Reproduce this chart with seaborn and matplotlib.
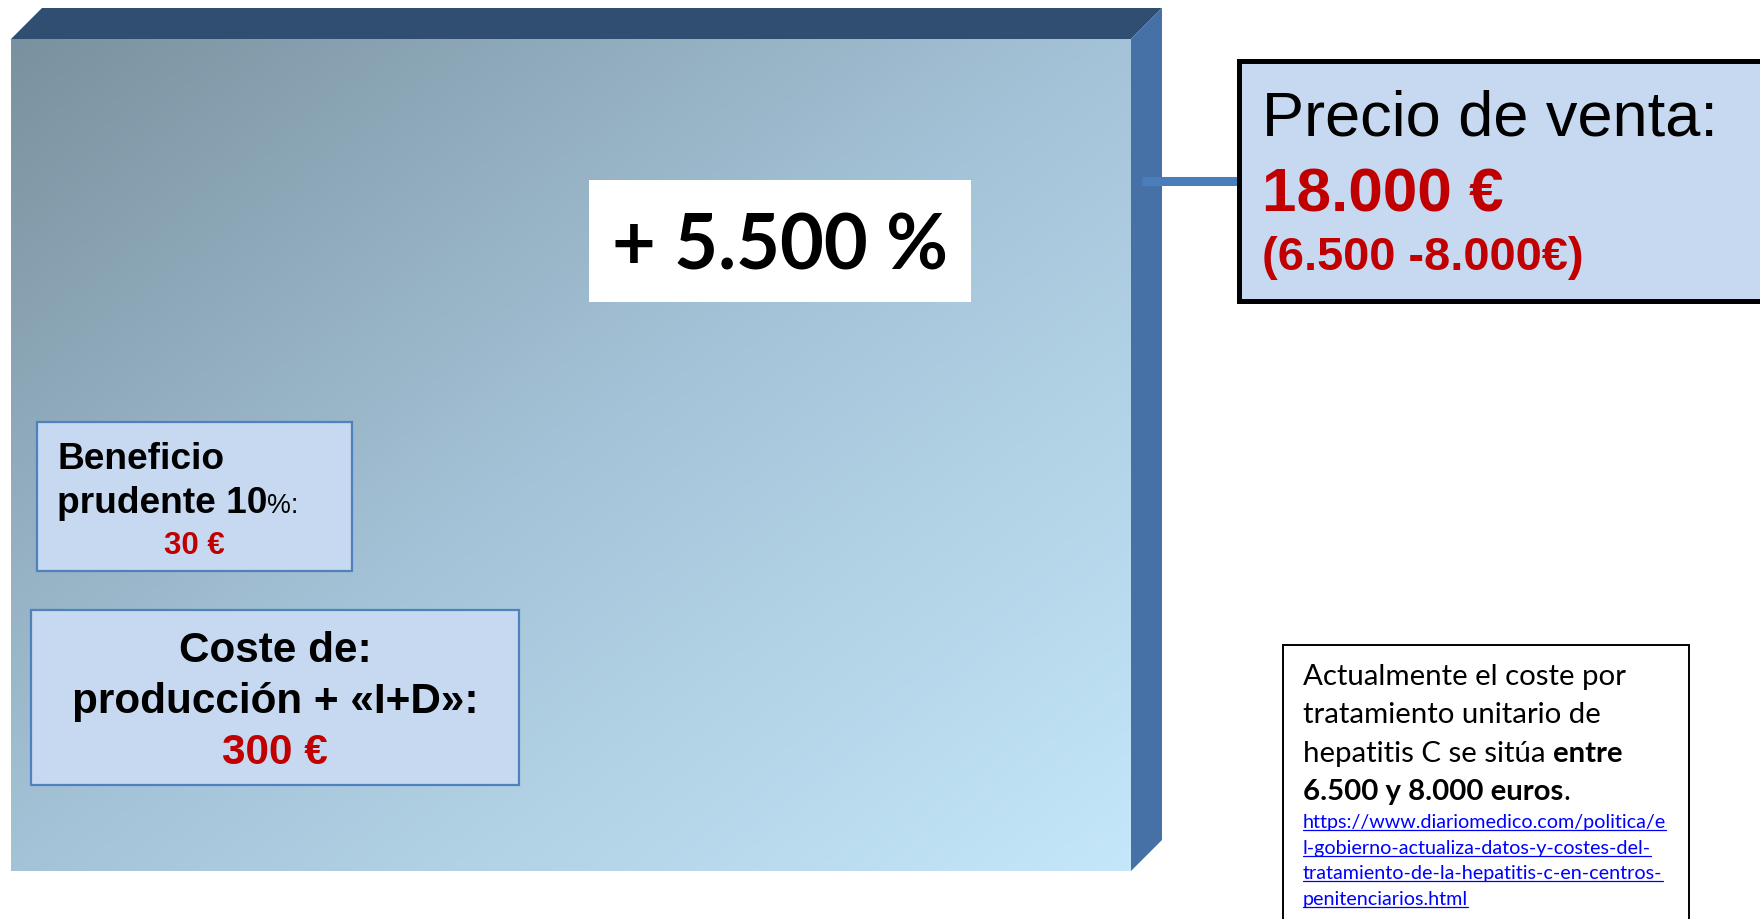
import numpy as np
import pandas as pd
import matplotlib
matplotlib.use("Agg")
import matplotlib.pyplot as plt
from matplotlib.patches import Rectangle, Polygon
from matplotlib.colors import LinearSegmentedColormap
import seaborn as sns

# ---- values shown in the diagram ----
producto = ["Tratamiento hepatitis C"]
precio_venta = [18000]            # € per treatment (block)
coste_produccion_id = [300]       # € production + R&D
beneficio_pct = [10]
beneficio = [30]                  # €
incremento_pct = [5500]
rango_actual = [6500, 8000]       # € current cost range
fuente_url = [
    "https://www.diariomedico.com/politica/e",
    "l-gobierno-actualiza-datos-y-costes-del-",
    "tratamiento-de-la-hepatitis-c-en-centros-",
    "penitenciarios.html",
]


def miles(v):
    return f"{v:,.0f}".replace(",", ".")


W, H, DPI = 1760, 920, 100
sns.set_theme(style="white")
plt.rcParams["font.family"] = ["Liberation Sans", "DejaVu Sans"]

fig = plt.figure(figsize=(W / DPI, H / DPI), dpi=DPI)
fig.patch.set_facecolor("white")

# ---- front face of the block: a single bar filling its own axes ----
FX0, FX1, FY0, FY1 = 11, 1131, 40, 872
ax = fig.add_axes([FX0 / W, 1 - FY1 / H, (FX1 - FX0) / W, (FY1 - FY0) / H])
df = pd.DataFrame({"producto": producto, "precio": precio_venta})
sns.barplot(data=df, x="producto", y="precio", width=1.0, color="#A6C4D8",
            saturation=1, linewidth=0, ax=ax)
bar = ax.patches[0]
bx_lo, bx_hi, b_h = bar.get_x(), bar.get_x() + bar.get_width(), bar.get_height()

n = 400
xx, yy = np.meshgrid(np.linspace(0, 1, n), np.linspace(0, 1, n))
grad = (xx + yy) / 2
cmap = LinearSegmentedColormap.from_list("frente", ["#7A929F", "#A5C3D8", "#C4E7F9"])
im = ax.imshow(grad, cmap=cmap, extent=(bx_lo, bx_hi, 0, b_h), origin="upper",
               aspect="auto", zorder=3)
im.set_clip_path(bar)
ax.set_xlim(bx_lo, bx_hi)
ax.set_ylim(0, b_h)
ax.axis("off")

# ---- overlay in pixel units (y down) for the 3D faces, boxes and text ----
ov = fig.add_axes([0, 0, 1, 1], zorder=5)
ov.set_xlim(0, W)
ov.set_ylim(H, 0)
ov.axis("off")
ov.patch.set_alpha(0)

to_px = ax.transData + ov.transData.inverted()
(px0, py_bot), (px1, py_top) = to_px.transform([(bx_lo, 0), (bx_hi, b_h)])
D = 31
ov.add_patch(Polygon([(px0, py_top), (px0 + D, py_top - D), (px1 + D, py_top - D), (px1, py_top)],
                     closed=True, fc="#2F4E71", ec="none", zorder=1))
ov.add_patch(Polygon([(px1, py_top), (px1 + D, py_top - D), (px1 + D, py_bot - D), (px1, py_bot)],
                     closed=True, fc="#4671A7", ec="none", zorder=1))

renderer = fig.canvas.get_renderer()


def width_px(s, **kw):
    t = ov.text(0, 0, s + "|", **kw)
    w1 = t.get_window_extent(renderer).width
    t.remove()
    t = ov.text(0, 0, "|", **kw)
    w2 = t.get_window_extent(renderer).width
    t.remove()
    return w1 - w2


def fit(s, target, **kw):
    return 20 * target / width_px(s, fontsize=20, **kw)


def runs(x, y, parts, ha="left"):
    widths = [width_px(t, **kw) for t, kw in parts]
    if ha == "center":
        x -= sum(widths) / 2
    for (t, kw), w in zip(parts, widths):
        ov.text(x, y, t, ha="left", va="baseline", zorder=6, **kw)
        x += w
    return sum(widths)


ROJO = "#C00000"
CAJA = "#C6D9F1"
BORDE = "#4F81BD"
ARIAL = ["Liberation Sans", "DejaVu Sans"]
CALIBRI = ["Lato", "DejaVu Sans"]

# connector from the block to the price box
ov.plot([1142, 1240], [182, 182], color="#4A7EBB", lw=6.5, solid_capstyle="butt", zorder=2)

# ---- price box ----
ov.add_patch(Rectangle((1239, 62), 600, 240, fc=CAJA, ec="black", lw=3.6, zorder=3))
t1 = "Precio de venta:"
t2 = f"{miles(precio_venta[0])} €"
t3 = f"({miles(rango_actual[0])} -{miles(rango_actual[1])}€)"
s1 = fit(t1, 455, family=ARIAL)
s2 = fit(t2, 242, family=ARIAL, weight="bold")
s3 = fit(t3, 322, family=ARIAL, weight="bold")
ov.text(1262, 135, t1, family=ARIAL, fontsize=s1, color="black", va="baseline", zorder=6)
ov.text(1262, 212, t2, family=ARIAL, fontsize=s2, weight="bold", color=ROJO, va="baseline", zorder=6)
ov.text(1262, 270, t3, family=ARIAL, fontsize=s3, weight="bold", color=ROJO, va="baseline", zorder=6)

# ---- increase label ----
ov.add_patch(Rectangle((589, 181), 382, 122, fc="white", ec="none", zorder=3))
ti = f"+ {miles(incremento_pct[0])} %"
si = fit(ti, 337, family=CALIBRI, weight="bold")
ov.text(780, 270, ti, family=CALIBRI, fontsize=si, weight="bold", color="black",
        ha="center", va="baseline", zorder=6)

# ---- profit box ----
ov.add_patch(Rectangle((37, 423), 315, 149, fc=CAJA, ec=BORDE, lw=1.6, zorder=3))
sb = fit("Beneficio", 167, family=ARIAL, weight="bold")
bold_b = dict(family=ARIAL, fontsize=sb, weight="bold", color="black")
runs(57, 469, [("Beneficio", bold_b)])
runs(57, 513, [(f"prudente {beneficio_pct[0]}", bold_b),
               ("%:", dict(family=ARIAL, fontsize=sb * 0.72, color="black"))])
tb = f"{beneficio[0]} €"
sbv = fit(tb, 61, family=ARIAL, weight="bold")
runs(194.5, 554, [(tb, dict(family=ARIAL, fontsize=sbv, weight="bold", color=ROJO))], ha="center")

# ---- production cost box ----
ov.add_patch(Rectangle((31, 611), 488, 175, fc=CAJA, ec=BORDE, lw=1.6, zorder=3))
lc2 = "producción + «I+D»:"
sc = fit(lc2, 406, family=ARIAL, weight="bold")
bold_c = dict(family=ARIAL, fontsize=sc, weight="bold", color="black")
runs(275, 662, [("Coste de:", bold_c)], ha="center")
runs(275, 713, [(lc2, bold_c)], ha="center")
runs(275, 764, [(f"{coste_produccion_id[0]} €", dict(bold_c, color=ROJO))], ha="center")

# ---- note with source ----
ov.add_patch(Rectangle((1283, 646), 406, 330, fc="white", ec="black", lw=1.4, zorder=3))
l1 = "Actualmente el coste por"
sn = fit(l1, 324, family=CALIBRI)
reg_n = dict(family=CALIBRI, fontsize=sn, color="black")
bold_n = dict(reg_n, weight="bold")
runs(1303, 685, [(l1, reg_n)])
runs(1303, 723, [("tratamiento unitario de", reg_n)])
runs(1303, 762, [("hepatitis C se sitúa ", reg_n), ("entre", bold_n)])
runs(1303, 800, [(f"{miles(rango_actual[0])} y {miles(rango_actual[1])} euros", bold_n), (".", reg_n)])

su = fit(fuente_url[0], 364, family=CALIBRI)
link = dict(family=CALIBRI, fontsize=su, color="#0000FF")
for i, linea in enumerate(fuente_url):
    yb = 828 + i * 25.7
    w = runs(1303, yb, [(linea, link)])
    ov.plot([1303, 1303 + w], [yb + 3, yb + 3], color="#0000FF", lw=0.9, zorder=6)

fig.savefig("out.png", dpi=DPI)
